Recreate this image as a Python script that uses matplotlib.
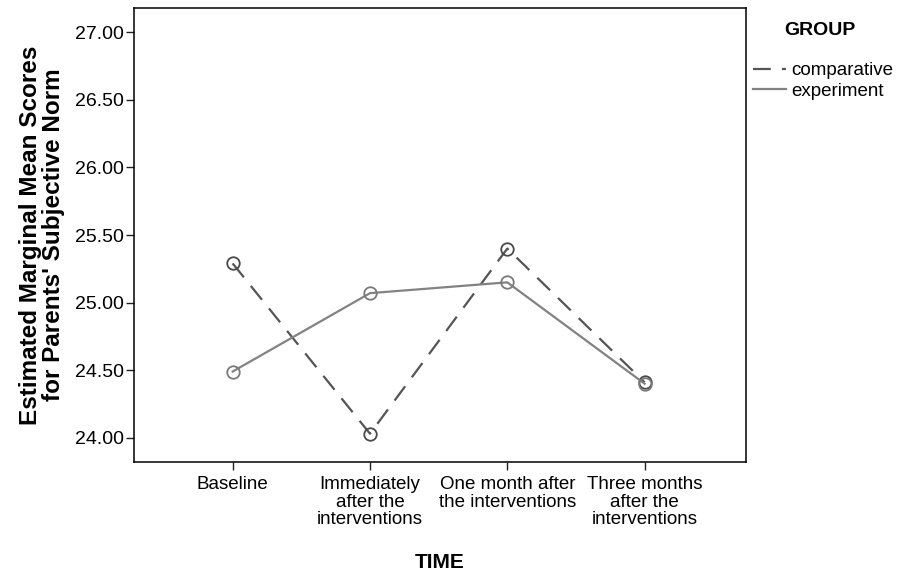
import numpy as np
import matplotlib as mpl
import matplotlib.pyplot as plt
from matplotlib.lines import Line2D

mpl.rcParams['font.family'] = ['Liberation Sans', 'DejaVu Sans']

# Estimated marginal means
time_labels = ['Baseline', 'Immediately\nafter the\ninterventions',
			   'One month after\nthe interventions', 'Three months\nafter the\ninterventions']
comparative = [25.29, 24.03, 25.40, 24.41]
experiment = [24.49, 25.07, 25.15, 24.40]
yticks = [24.0, 24.5, 25.0, 25.5, 26.0, 26.5, 27.0]

dash_col = '#555555'
solid_col = '#828282'
dash_ls = (0, (8, 5))

fig = plt.figure(figsize=(8.98, 5.74), dpi=100)
ax = fig.add_axes([0.149, 0.195, 0.682, 0.791])

x = np.arange(len(time_labels))
ax.plot(x, comparative, color=dash_col, lw=1.6, linestyle=dash_ls,
		marker='o', ms=9, mfc='none', mec='#4a4a4a', mew=1.3)
ax.plot(x, experiment, color=solid_col, lw=1.6, linestyle='-',
		marker='o', ms=9, mfc='none', mec='#7a7a7a', mew=1.3)

ax.set_xlim(-0.72, 3.74)
ax.set_ylim(23.82, 27.18)
ax.set_xticks(x)
ax.set_xticklabels(time_labels, fontsize=13.5, linespacing=1.05)
ax.set_yticks(yticks)
ax.set_yticklabels(['%.2f' % v for v in yticks], fontsize=14)
ax.tick_params(direction='out', length=6, width=1, color='#222222', pad=1)
ax.tick_params(axis='x', pad=4)
for s in ax.spines.values():
	s.set_linewidth(1.1)

ax.set_xlabel('TIME', fontsize=15, fontweight='bold', labelpad=18)
ax.set_ylabel("Estimated Marginal Mean Scores\nfor Parents' Subjective Norm",
			  fontsize=17.5, fontweight='bold', linespacing=1.0, labelpad=7)

# legend: title placed separately to get the gap seen in the original
fig.text(0.913, 0.947, 'GROUP', fontsize=14, fontweight='bold', ha='center', va='center')
handles = [Line2D([], [], color=dash_col, lw=1.6, linestyle=dash_ls),
		   Line2D([], [], color=solid_col, lw=1.6)]
fig.legend(handles, ['comparative', 'experiment'], loc='upper left',
		   bbox_to_anchor=(0.830, 0.905), frameon=False, fontsize=13.5,
		   handlelength=1.75, handletextpad=0.3, labelspacing=0.2, borderaxespad=0)

fig.savefig('out.png', dpi=100)
